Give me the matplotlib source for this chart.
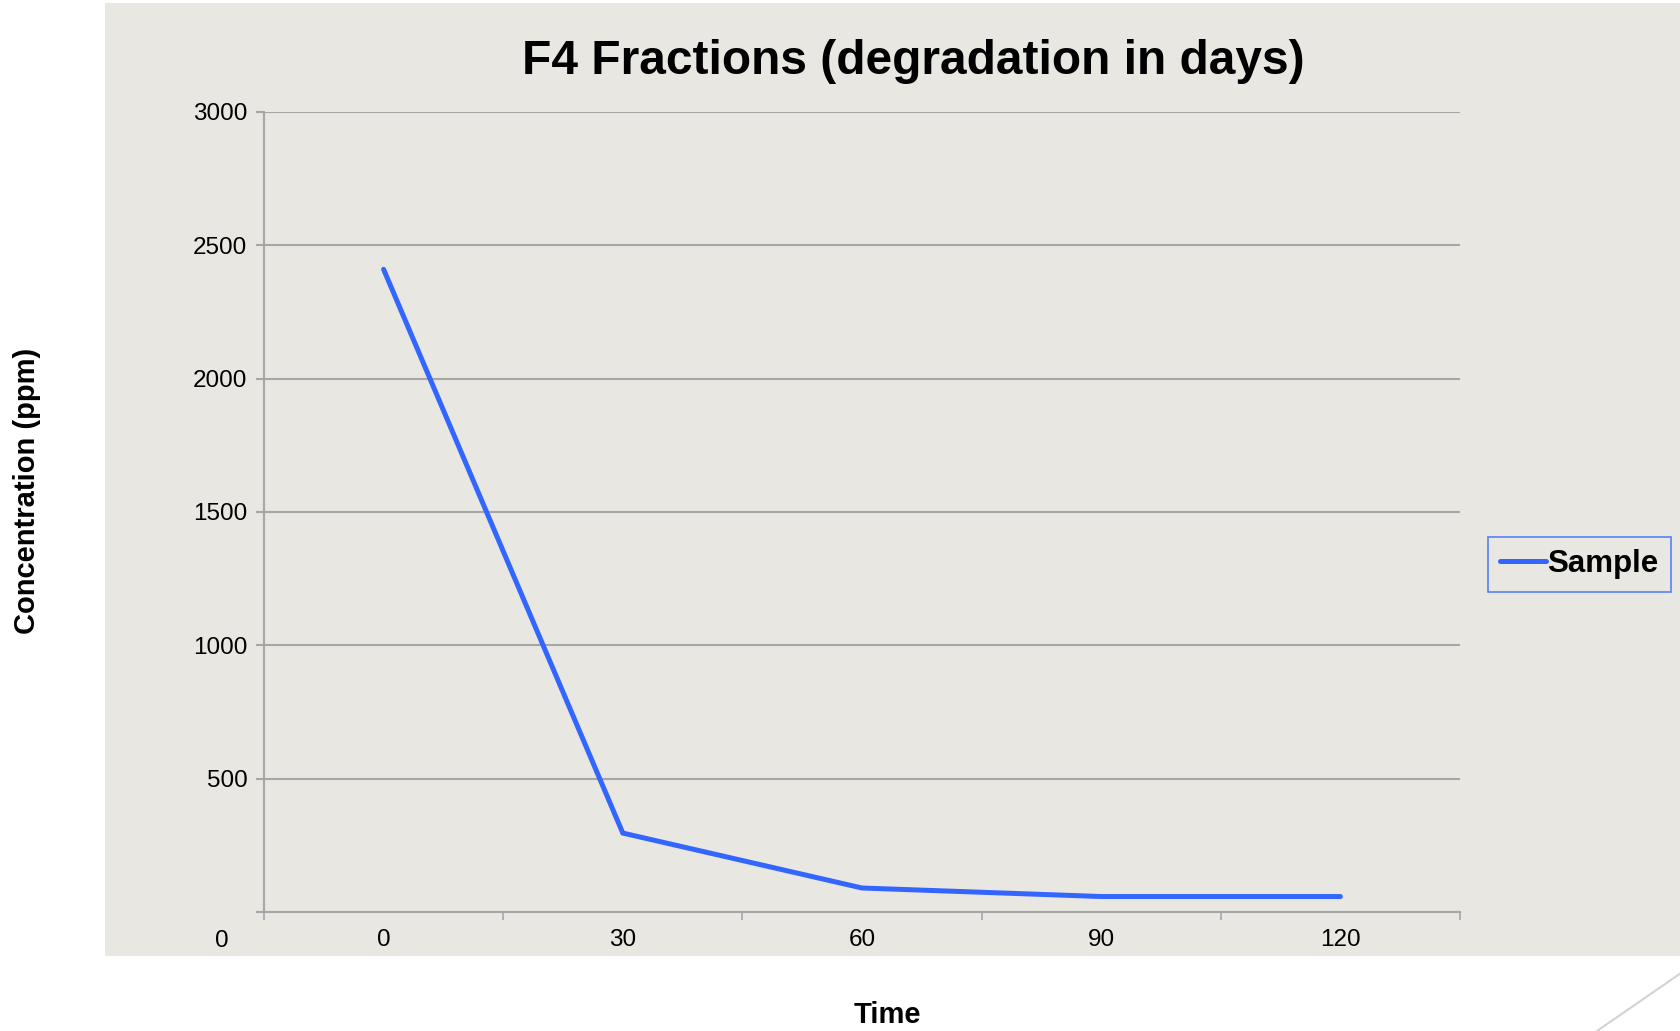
import numpy as np
import matplotlib.pyplot as plt
from matplotlib.patches import Rectangle
from matplotlib.lines import Line2D

plt.rcParams['font.family'] = ['Liberation Sans', 'DejaVu Sans']

# --- dados ---
dias = ['0', '30', '60', '90', '120']
concentracao = [2410, 296, 90, 58, 58]
yticks = [500, 1000, 1500, 2000, 2500, 3000]

fundo = '#E8E7E1'
azul = '#3366FF'
grade = '#A6A6A6'

fig = plt.figure(figsize=(16.81, 10.31), dpi=100)
fig.patch.set_facecolor('white')

# painel cinza atras do grafico
fig.patches.append(Rectangle((105 / 1681, 1 - 956 / 1031), 1 - 105 / 1681, (956 - 3) / 1031,
                             transform=fig.transFigure, facecolor=fundo, edgecolor='none', zorder=-1))
# linha decorativa no canto inferior direito
fig.lines.append(Line2D([1597 / 1681, 1.0], [0.0, 58 / 1031], transform=fig.transFigure,
                        color='#D3D3D3', linewidth=1.5, zorder=-1))

ax = fig.add_axes([264 / 1681, 1 - 912 / 1031, (1460 - 264) / 1681, (912 - 112) / 1031])
ax.set_facecolor('none')

x = np.arange(len(dias))
ax.plot(x, concentracao, color=azul, linewidth=3.6, solid_capstyle='round',
        solid_joinstyle='miter', label='Sample', zorder=3)

ax.set_xlim(-0.5, len(dias) - 0.5)
ax.set_ylim(0, 3000)

ax.set_xticks(x)
ax.set_xticklabels(dias)
ax.set_xticks(np.arange(-0.5, len(dias)), minor=True)
ax.tick_params(axis='x', which='major', length=0, pad=12.5, labelsize=17.5)
ax.tick_params(axis='x', which='minor', length=6, width=1.2, color=grade, direction='out')

ax.set_yticks([0] + yticks)
ax.set_yticklabels([''] + [str(v) for v in yticks])
ax.tick_params(axis='y', length=6, width=1.5, color=grade, pad=6, labelsize=17.5)
ax.yaxis.grid(True, color=grade, linewidth=1.5)
ax.set_axisbelow(True)

for s in ['top', 'right']:
    ax.spines[s].set_visible(False)
for s in ['left', 'bottom']:
    ax.spines[s].set_color(grade)
    ax.spines[s].set_linewidth(1.5)

# rotulo "0" do eixo y fica abaixo do eixo
ax.annotate('0', xy=(0, 0), xycoords=('axes fraction', 'data'), xytext=(-42, -29),
            textcoords='offset pixels', ha='center', va='center', fontsize=17.5)

fig.text(913 / 1681, 1 - 74 / 1031, 'F4 Fractions (degradation in days)',
         ha='center', va='baseline', fontsize=34.5, fontweight='bold')
fig.text(27 / 1681, 1 - 491 / 1031, 'Concentration (ppm)', rotation=90,
         ha='center', va='center', fontsize=21, fontweight='bold')
fig.text(887 / 1681, 1 - 1015 / 1031, 'Time', ha='center', va='center',
         fontsize=21, fontweight='bold')

leg = ax.legend(loc='center left', bbox_to_anchor=(1488 / 1681, 1 - 564 / 1031),
                bbox_transform=fig.transFigure, frameon=True, fancybox=False,
                prop={'weight': 'bold', 'size': 22.5}, handlelength=1.45, handletextpad=0.05,
                borderpad=0.4, borderaxespad=0)
leg.get_frame().set_edgecolor(azul)
leg.get_frame().set_linewidth(1.2)
leg.get_frame().set_facecolor(fundo)

plt.savefig('out.png', dpi=100)
